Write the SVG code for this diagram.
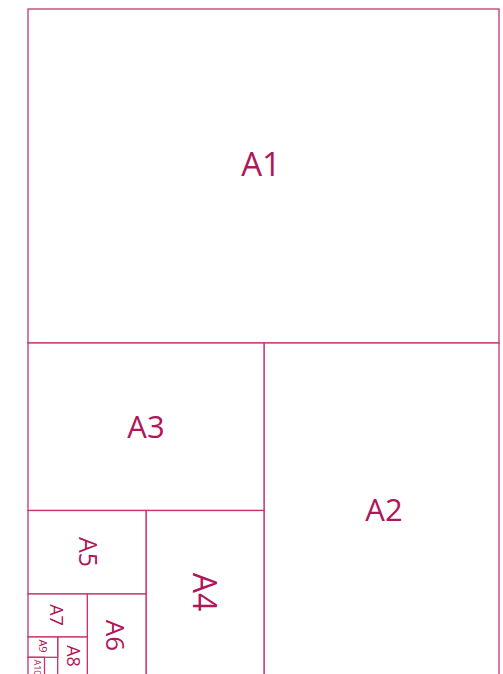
<svg xmlns="http://www.w3.org/2000/svg" width="503" height="674" viewBox="0 0 503 674">
<style>
.sheet{fill:#ffffff;stroke:#c8336e;stroke-width:1.3}
.lbl{fill:#b0175a;font-family:"Open Sans","Noto Sans","DejaVu Sans",sans-serif;text-anchor:middle}
</style>
<rect width="503" height="674" fill="#ffffff"/>
<g id="A1"><rect class="sheet" x="28" y="9" width="471" height="334"/><text class="lbl" x="261" y="176" font-size="33">A1</text></g>
<g id="A2"><rect class="sheet" x="264" y="343" width="235" height="345"/><text class="lbl" x="384" y="521" font-size="31">A2</text></g>
<g id="A3"><rect class="sheet" x="28" y="343" width="236" height="167.5"/><text class="lbl" x="146" y="438" font-size="31">A3</text></g>
<g id="A4"><rect class="sheet" x="146" y="510.5" width="118" height="175"/><text class="lbl" transform="translate(193,592) rotate(90)" font-size="32">A4</text></g>
<g id="A5"><rect class="sheet" x="28" y="510.5" width="118" height="83.5"/><text class="lbl" transform="translate(79,552) rotate(90)" font-size="25">A5</text></g>
<g id="A6"><rect class="sheet" x="87.3" y="594" width="58.7" height="95"/><text class="lbl" transform="translate(106,635.5) rotate(90)" font-size="26">A6</text></g>
<g id="A7"><rect class="sheet" x="28" y="594" width="59.3" height="43"/><text class="lbl" transform="translate(50,615) rotate(90)" font-size="18">A7</text></g>
<g id="A8"><rect class="sheet" x="57.7" y="637" width="29.6" height="55"/><text class="lbl" transform="translate(67.3,656) rotate(90)" font-size="18">A8</text></g>
<g id="A9"><rect class="sheet" x="28" y="637" width="29.7" height="20.3"/><text class="lbl" transform="translate(39,646) rotate(90)" font-size="11">A9</text></g>
<g id="A10"><rect class="sheet" x="28" y="657.3" width="16.5" height="30"/><text class="lbl" transform="translate(34,667.5) rotate(90)" font-size="9">A10</text></g>
<g id="connectors"></g>
</svg>
